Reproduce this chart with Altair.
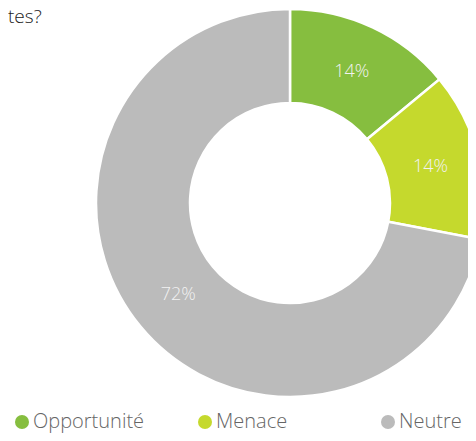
import altair as alt
import pandas as pd

categories = ["Opportunité", "Menace", "Neutre"]
values = [14, 14, 72]
labels = ["14%", "14%", "72%"]
colors = ["#86BE3F", "#C5D92D", "#BBBBBB"]
title_text = ["tes?"]

df = pd.DataFrame({
    "cat": categories,
    "val": values,
    "label": labels,
    "idx": list(range(len(categories))),
})

base = alt.Chart(df).encode(
    theta=alt.Theta("val:Q", stack=True),
    order=alt.Order("idx:Q"),
    x=alt.value(282),
    y=alt.value(195),
)

arcs = base.mark_arc(innerRadius=100, outerRadius=194, stroke="white", strokeWidth=2.5).encode(
    color=alt.Color(
        "cat:N",
        scale=alt.Scale(domain=categories, range=colors),
        sort=categories,
        legend=alt.Legend(
            title=None,
            orient="none",
            legendX=4,
            legendY=404,
            direction="horizontal",
            columns=3,
            gridAlign="all",
            columnPadding=50,
            padding=0,
            symbolType="circle",
            symbolSize=196,
            symbolStrokeWidth=0,
            labelFont="Open Sans",
            labelFontSize=20,
            labelFontWeight=300,
            labelColor="#666666",
            labelOffset=1,
            labelLimit=300,
        ),
    )
)

texts = base.mark_text(radius=145, font="Open Sans", fontSize=18, fontWeight=300, color="#F2F2F2").encode(
    text="label:N"
)

title = alt.Chart(pd.DataFrame({"t": title_text})).mark_text(
    align="left", baseline="alphabetic", font="Open Sans", fontSize=19, fontWeight=300, color="#222222"
).encode(x=alt.value(0), y=alt.value(15), text="t:N")

chart = alt.layer(arcs, texts, title).properties(
    width=460, height=425, autosize=alt.AutoSizeParams(type="none"), padding=0
).configure_view(stroke=None)

chart.save("out.html", embed_options={"renderer": "svg", "actions": False})
